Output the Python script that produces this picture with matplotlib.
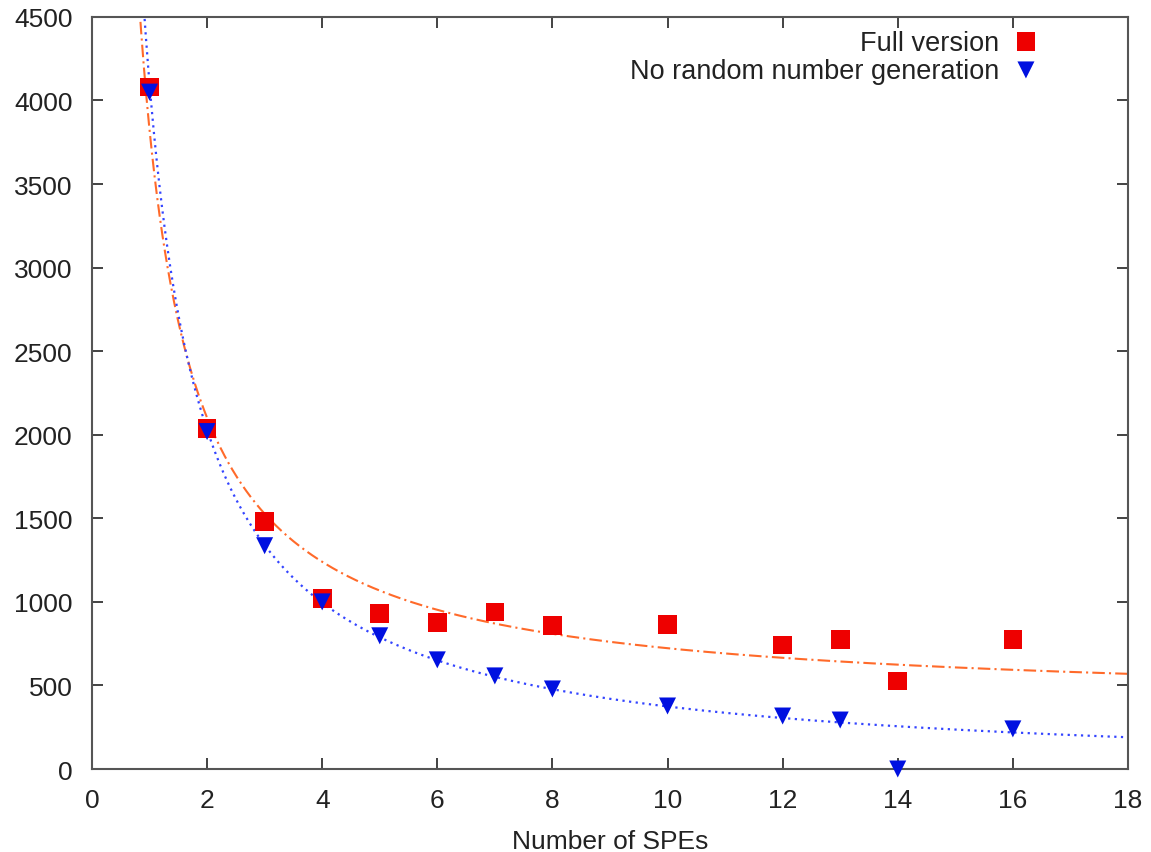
import numpy as np
import matplotlib
matplotlib.use("Agg")
import matplotlib.pyplot as plt

plt.rcParams['font.family'] = ['Liberation Sans', 'DejaVu Sans']

spes = [1, 2, 3, 4, 5, 6, 7, 8, 10, 12, 13, 14, 16]
full_version = [4080, 2037, 1480, 1019, 929, 875, 940, 857, 863, 743, 773, 527, 773]
no_random = [4050, 2019, 1336, 1000, 797, 653, 557, 479, 377, 317, 293, 0, 240]

# fitted curves (a / x + b), parameters
full_fit_a, full_fit_b = 3447.0, 378.0
norand_fit_a, norand_fit_b = 4140.0, -40.0

label_full = "Full version"
label_norand = "No random number generation"
xlabel = "Number of SPEs"
xticks = [0, 2, 4, 6, 8, 10, 12, 14, 16, 18]
yticks = [0, 500, 1000, 1500, 2000, 2500, 3000, 3500, 4000, 4500]

FS = 19
TXT = '#222222'

fig = plt.figure(figsize=(11.51, 8.53), dpi=100)
ax = fig.add_axes([0.0799, 0.0973, 0.9001, 0.8817])

xs = np.linspace(0.75, 18, 1500)
ax.plot(xs, full_fit_a / xs + full_fit_b, color='#ff6a2a', lw=1.5,
        linestyle=(0, (6, 2, 1, 2)), zorder=2)
ax.plot(xs, norand_fit_a / xs + norand_fit_b, color='#3344ff', lw=1.6,
        linestyle=(0, (1, 2)), zorder=2)

ax.scatter(spes, full_version, marker='s', s=180, color='#ee0000',
           edgecolors='none', zorder=3, clip_on=False)
ax.scatter(spes, no_random, marker='v', s=150, color='#0010e0',
           edgecolors='none', zorder=4, clip_on=False)

ax.set_xlim(0, 18)
ax.set_ylim(0, 4500)
ax.set_xticks(xticks)
ax.set_yticks(yticks)
ax.tick_params(direction='in', length=8, width=1.2, top=True, right=True,
               labelsize=FS, colors=TXT)
ax.tick_params(axis='x', pad=14)
ax.tick_params(axis='y', pad=14)
for sp in ax.spines.values():
    sp.set_color('#555555')
    sp.set_linewidth(1.5)
ax.set_xlabel(xlabel, fontsize=FS, color=TXT, labelpad=12)

# legend (gnuplot style: text right-aligned, key to the right)
ax.text(0.876, 0.965, label_full, transform=ax.transAxes, ha='right',
        va='center', fontsize=19.5, color=TXT)
ax.text(0.876, 0.9275, label_norand, transform=ax.transAxes, ha='right',
        va='center', fontsize=19.5, color=TXT)
ax.scatter([0.9015], [0.967], transform=ax.transAxes, marker='s', s=180,
           color='#ee0000', edgecolors='none', clip_on=False)
ax.scatter([0.9015], [0.9295], transform=ax.transAxes, marker='v', s=150,
           color='#0010e0', edgecolors='none', clip_on=False)

fig.savefig("out.png", dpi=100)
